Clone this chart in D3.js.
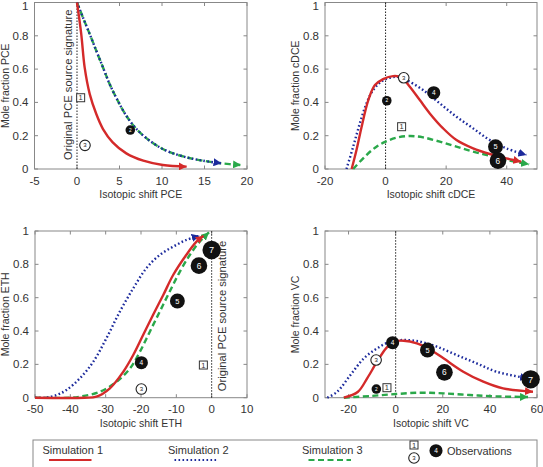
<!DOCTYPE html>
<html>
<head>
<meta charset="utf-8">
<script src="https://cdnjs.cloudflare.com/ajax/libs/d3/7.8.5/d3.min.js"></script>
<style>
  body { margin: 0; background: #fff; }
  svg { display: block; font-family: "Liberation Sans", Arial, sans-serif; }
</style>
</head>
<body>
<svg id="chart" width="543" height="467"></svg>
<script>
// ---- data: [isotopic shift, mole fraction] ----
const pceSim1 = [[0,1],[0.5,0.81],[0.9,0.61],[1.5,0.45],[2.27,0.33],[3.06,0.24],[4.2,0.16],[5.8,0.094],[7.8,0.05],[10.1,0.024],[12.9,0.014]];
const pceSim2 = [[0,1],[0.7,0.91],[1.5,0.81],[2.27,0.71],[3.06,0.61],[3.84,0.51],[4.8,0.41],[5.8,0.32],[7.0,0.24],[8.55,0.17],[10.5,0.11],[12.9,0.07],[14.8,0.05],[17,0.034]];
const pceSim3 = [[0,1],[0.7,0.91],[1.5,0.81],[2.27,0.71],[3.06,0.61],[3.84,0.51],[4.8,0.41],[5.8,0.32],[7.0,0.24],[8.55,0.17],[10.5,0.11],[12.9,0.07],[14.8,0.05],[17,0.034],[19.3,0.024]];
const pceObs = [
  { n: 1, kind: "square", x: 0.43, y: 0.428 },
  { n: 2, kind: "filled", x: 6.27, y: 0.234 },
  { n: 3, kind: "open",   x: 0.94, y: 0.142 }
];

const cdceSim1 = [[-11.2,0],[-9.6,0.114],[-7.9,0.254],[-5.7,0.414],[-3.5,0.504],[-0.8,0.54],[2.5,0.558],[5.3,0.55],[8,0.494],[11.3,0.414],[14.6,0.334],[19,0.244],[23.4,0.174],[28.9,0.124],[34.4,0.09],[39.9,0.064],[44.8,0.044]];
const cdceSim2 = [[-12.9,0],[-10.7,0.134],[-8.5,0.274],[-6.3,0.394],[-4.1,0.474],[-1,0.53],[3.6,0.554],[6.9,0.534],[12.4,0.474],[17.9,0.394],[23.4,0.314],[28.9,0.244],[34.4,0.174],[39.9,0.124],[46.5,0.084]];
const cdceSim3 = [[-10.7,0],[-6.3,0.084],[-3,0.134],[0,0.164],[3.6,0.188],[8,0.198],[12.4,0.19],[17.9,0.164],[23.4,0.134],[28.9,0.104],[34.4,0.08],[39.9,0.054],[47.4,0.028]];
const cdceObs = [
  { n: 1, kind: "square", x: 5.3,  y: 0.254 },
  { n: 2, kind: "filled", x: 0.4,  y: 0.41 },
  { n: 3, kind: "open",   x: 6,    y: 0.548 },
  { n: 4, kind: "filled", x: 15.9, y: 0.458 },
  { n: 5, kind: "filled", x: 36.3, y: 0.134 },
  { n: 6, kind: "filled", x: 37.1, y: 0.05 }
];

const ethSim1 = [[-50,0],[-36,0],[-32.6,0.006],[-28.8,0.056],[-25,0.156],[-22.2,0.256],[-19.4,0.376],[-16.6,0.496],[-13.7,0.616],[-10.9,0.736],[-7.2,0.856],[-4.3,0.936],[-2.3,0.972]];
const ethSim2 = [[-50,0],[-47.2,0],[-43.9,0.016],[-41.1,0.046],[-37.3,0.116],[-33.5,0.216],[-29.8,0.356],[-26,0.516],[-22.2,0.656],[-18.5,0.776],[-14.7,0.856],[-10.9,0.906],[-7.2,0.946],[-3.4,0.972]];
const ethSim3 = [[-50,0],[-40,0],[-37.3,0.006],[-31.6,0.036],[-26.9,0.096],[-23.1,0.176],[-20.3,0.276],[-17.5,0.396],[-14.7,0.516],[-11.9,0.636],[-9,0.756],[-6.2,0.856],[-3.4,0.936],[-0.75,0.992]];
const ethObs = [
  { n: 1, kind: "square", x: -2.35, y: 0.196 },
  { n: 3, kind: "open",   x: -19.9, y: 0.052 },
  { n: 4, kind: "filled", x: -19.9, y: 0.21 },
  { n: 5, kind: "filled", x: -9.7,  y: 0.58 },
  { n: 6, kind: "filled", x: -3.6,  y: 0.792 },
  { n: 7, kind: "filled", x: 0,     y: 0.886 }
];

const vcSim1 = [[-22,0],[-16,0.036],[-12.1,0.116],[-7.9,0.216],[-4.1,0.296],[-0.8,0.336],[3.4,0.342],[9,0.326],[14.9,0.286],[20.3,0.236],[28.7,0.156],[37.2,0.096],[45.6,0.056],[58.3,0.036]];
const vcSim2 = [[-29,0],[-24.8,0.036],[-19.2,0.136],[-13.5,0.236],[-7.9,0.296],[-2.3,0.336],[3.4,0.346],[10.4,0.336],[17.5,0.306],[25.9,0.256],[34.4,0.206],[42.8,0.156],[56.2,0.116]];
const vcSim3 = [[-22,0],[-10.7,0.01],[0,0.022],[10.4,0.03],[20.3,0.026],[31.5,0.016],[42.8,0.008],[56.2,0.004]];
const vcObs = [
  { n: 1, kind: "square", x: -3.7,  y: 0.06 },
  { n: 2, kind: "filled", x: -8.2,  y: 0.052 },
  { n: 3, kind: "open",   x: -8.3,  y: 0.226 },
  { n: 4, kind: "filled", x: -1.3,  y: 0.33 },
  { n: 5, kind: "filled", x: 13.5,  y: 0.286 },
  { n: 6, kind: "filled", x: 20.7,  y: 0.152 },
  { n: 7, kind: "filled", x: 57.3,  y: 0.11 }
];

const yTickValues = [0, 0.2, 0.4, 0.6, 0.8, 1];
const simNames = ["Simulation 1", "Simulation 2", "Simulation 3"];
const noteText = "Original PCE source signature";

// ---- styles ----
const simStyle = [
  { color: "#d42a2a", width: 2.4, dash: null },
  { color: "#1c2a9c", width: 2.4, dash: "1.6,2.4" },
  { color: "#2aa84a", width: 2.4, dash: "6,3.5" }
];

const svg = d3.select("#chart");
const defs = svg.append("defs");
simStyle.forEach((s, i) => {
  defs.append("marker")
    .attr("id", "arrow" + i)
    .attr("markerUnits", "userSpaceOnUse")
    .attr("viewBox", "0 0 10 10")
    .attr("refX", 10).attr("refY", 5)
    .attr("markerWidth", 8).attr("markerHeight", 8)
    .attr("orient", "auto")
    .append("path")
    .attr("d", "M0,0L10,5L0,10Z")
    .attr("fill", s.color);
});

const panels = [
  { xDom: [-5, 20], xTicks: [-5, 0, 5, 10, 15, 20], left: 34.5, right: 247, top: 2.5, bottom: 169,
    xTitle: "Isotopic shift PCE", yTitle: "Mole fraction PCE", sims: [pceSim1, pceSim2, pceSim3], obs: pceObs, note: "left", vtop: 1 },
  { xDom: [-20, 50], xTicks: [-20, 0, 20, 40], left: 325, right: 537, top: 2.5, bottom: 169,
    xTitle: "Isotopic shift cDCE", yTitle: "Mole fraction cDCE", sims: [cdceSim1, cdceSim2, cdceSim3], obs: cdceObs, vtop: 1 },
  { xDom: [-50, 10], xTicks: [-50, -40, -30, -20, -10, 0, 10], left: 35, right: 247, top: 231, bottom: 397.7,
    xTitle: "Isotopic shift ETH", yTitle: "Mole fraction ETH", sims: [ethSim1, ethSim2, ethSim3], obs: ethObs, note: "right", vtop: 1 },
  { xDom: [-30, 60], xTicks: [-20, 0, 20, 40, 60], left: 325, right: 537, top: 231, bottom: 397.7,
    xTitle: "Isotopic shift VC", yTitle: "Mole fraction VC", sims: [vcSim1, vcSim2, vcSim3], obs: vcObs, vtop: 1 }
];

const rScale = d3.scaleLinear().domain([2, 7]).range([4.8, 9.2]);

panels.forEach(p => {
  const x = d3.scaleLinear().domain(p.xDom).range([p.left, p.right]);
  const y = d3.scaleLinear().domain([0, 1]).range([p.bottom, p.top]);
  const g = svg.append("g");

  // frame
  g.append("rect")
    .attr("x", p.left).attr("y", p.top)
    .attr("width", p.right - p.left).attr("height", p.bottom - p.top)
    .attr("fill", "none").attr("stroke", "#888").attr("stroke-width", 1);

  // ticks (inside, MATLAB style, all four sides)
  const tk = 3.5;
  p.xTicks.forEach(t => {
    g.append("line").attr("x1", x(t)).attr("x2", x(t)).attr("y1", p.bottom).attr("y2", p.bottom - tk).attr("stroke", "#888");
    g.append("line").attr("x1", x(t)).attr("x2", x(t)).attr("y1", p.top).attr("y2", p.top + tk).attr("stroke", "#888");
    g.append("text").attr("x", x(t)).attr("y", p.bottom + 15.5)
      .attr("text-anchor", "middle").attr("font-size", 11.5).attr("fill", "#333").text(t);
  });
  yTickValues.forEach(t => {
    g.append("line").attr("x1", p.left).attr("x2", p.left + tk).attr("y1", y(t)).attr("y2", y(t)).attr("stroke", "#888");
    g.append("line").attr("x1", p.right).attr("x2", p.right - tk).attr("y1", y(t)).attr("y2", y(t)).attr("stroke", "#888");
    g.append("text").attr("x", p.left - 6).attr("y", Math.max(y(t) + 4, 9.5))
      .attr("text-anchor", "end").attr("font-size", 11.5).attr("fill", "#333").text(t);
  });

  // axis titles
  g.append("text").attr("x", (p.left + p.right) / 2).attr("y", p.bottom + 29)
    .attr("text-anchor", "middle").attr("font-size", 10.5).attr("fill", "#333").text(p.xTitle);
  g.append("text")
    .attr("transform", "translate(" + (p.left - 26) + "," + ((p.top + p.bottom) / 2) + ") rotate(-90)")
    .attr("text-anchor", "middle").attr("font-size", 10.5).attr("fill", "#333").text(p.yTitle);

  // source signature line
  g.append("line").attr("x1", x(0)).attr("x2", x(0)).attr("y1", y(0)).attr("y2", y(p.vtop))
    .attr("stroke", "#222").attr("stroke-width", 1).attr("stroke-dasharray", "1.5,1.5");
  if (p.note) {
    const nx = p.note === "left" ? x(0) - 9 : x(0) + 10;
    const ny = p.note === "left" ? y(0.5) - 1 : y(0.49);
    g.append("text")
      .attr("transform", "translate(" + nx + "," + ny + ") rotate(-90)")
      .attr("text-anchor", "middle").attr("dy", "0.35em")
      .attr("font-size", 11.2).attr("fill", "#333").text(noteText);
  }

  // simulations: green first, red on top
  const line = d3.line().x(d => x(d[0])).y(d => y(d[1])).curve(d3.curveCatmullRom.alpha(0.5));
  [2, 1, 0].forEach(i => {
    const s = simStyle[i];
    g.append("path")
      .datum(p.sims[i])
      .attr("fill", "none")
      .attr("stroke", s.color)
      .attr("stroke-width", s.width)
      .attr("stroke-dasharray", s.dash)
      .attr("marker-end", "url(#arrow" + i + ")")
      .attr("d", line);
  });

  // observations
  p.obs.forEach(o => drawObs(g, x(o.x), y(o.y), o));
});

function drawObs(g, cx, cy, o) {
  if (o.kind === "square") {
    const s = 8;
    g.append("rect").attr("x", cx - s / 2).attr("y", cy - s / 2).attr("width", s).attr("height", s)
      .attr("fill", "#fff").attr("stroke", "#333").attr("stroke-width", 1);
    g.append("text").attr("x", cx).attr("y", cy + 2.6).attr("text-anchor", "middle")
      .attr("font-size", 7.5).attr("fill", "#333").text(o.n);
  } else if (o.kind === "open") {
    const r = rScale(o.n) - 0.4;
    g.append("circle").attr("cx", cx).attr("cy", cy).attr("r", r)
      .attr("fill", "#fff").attr("stroke", "#222").attr("stroke-width", 1.1);
    g.append("text").attr("x", cx).attr("y", cy + r * 0.38).attr("text-anchor", "middle")
      .attr("font-size", r * 1.15).attr("fill", "#222").text(o.n);
  } else {
    const r = rScale(o.n);
    g.append("circle").attr("cx", cx).attr("cy", cy).attr("r", r).attr("fill", "#111");
    g.append("text").attr("x", cx).attr("y", cy + r * 0.36).attr("text-anchor", "middle")
      .attr("font-size", r * 1.0).attr("fill", "#fff").text(o.n);
  }
}

// ---- legend ----
const lg = svg.append("g");
lg.append("rect").attr("x", 33).attr("y", 440).attr("width", 504).attr("height", 40)
  .attr("fill", "none").attr("stroke", "#888").attr("stroke-width", 1);
const legendX = [42.5, 168, 302];
simNames.forEach((name, i) => {
  const s = simStyle[i];
  lg.append("text").attr("x", legendX[i]).attr("y", 453.5).attr("font-size", 11).attr("fill", "#333").text(name);
  lg.append("line").attr("x1", legendX[i] + 6.5).attr("x2", legendX[i] + 49).attr("y1", 460).attr("y2", 460)
    .attr("stroke", s.color).attr("stroke-width", 2).attr("stroke-dasharray", s.dash);
});
drawObs(lg, 414, 445, { n: 1, kind: "square" });
drawObs(lg, 414, 458, { n: 3, kind: "open" });
drawObs(lg, 436, 450.7, { n: 4, kind: "filled" });
lg.append("text").attr("x", 447).attr("y", 454.5).attr("font-size", 11).attr("fill", "#333").text("Observations");
</script>
</body>
</html>
